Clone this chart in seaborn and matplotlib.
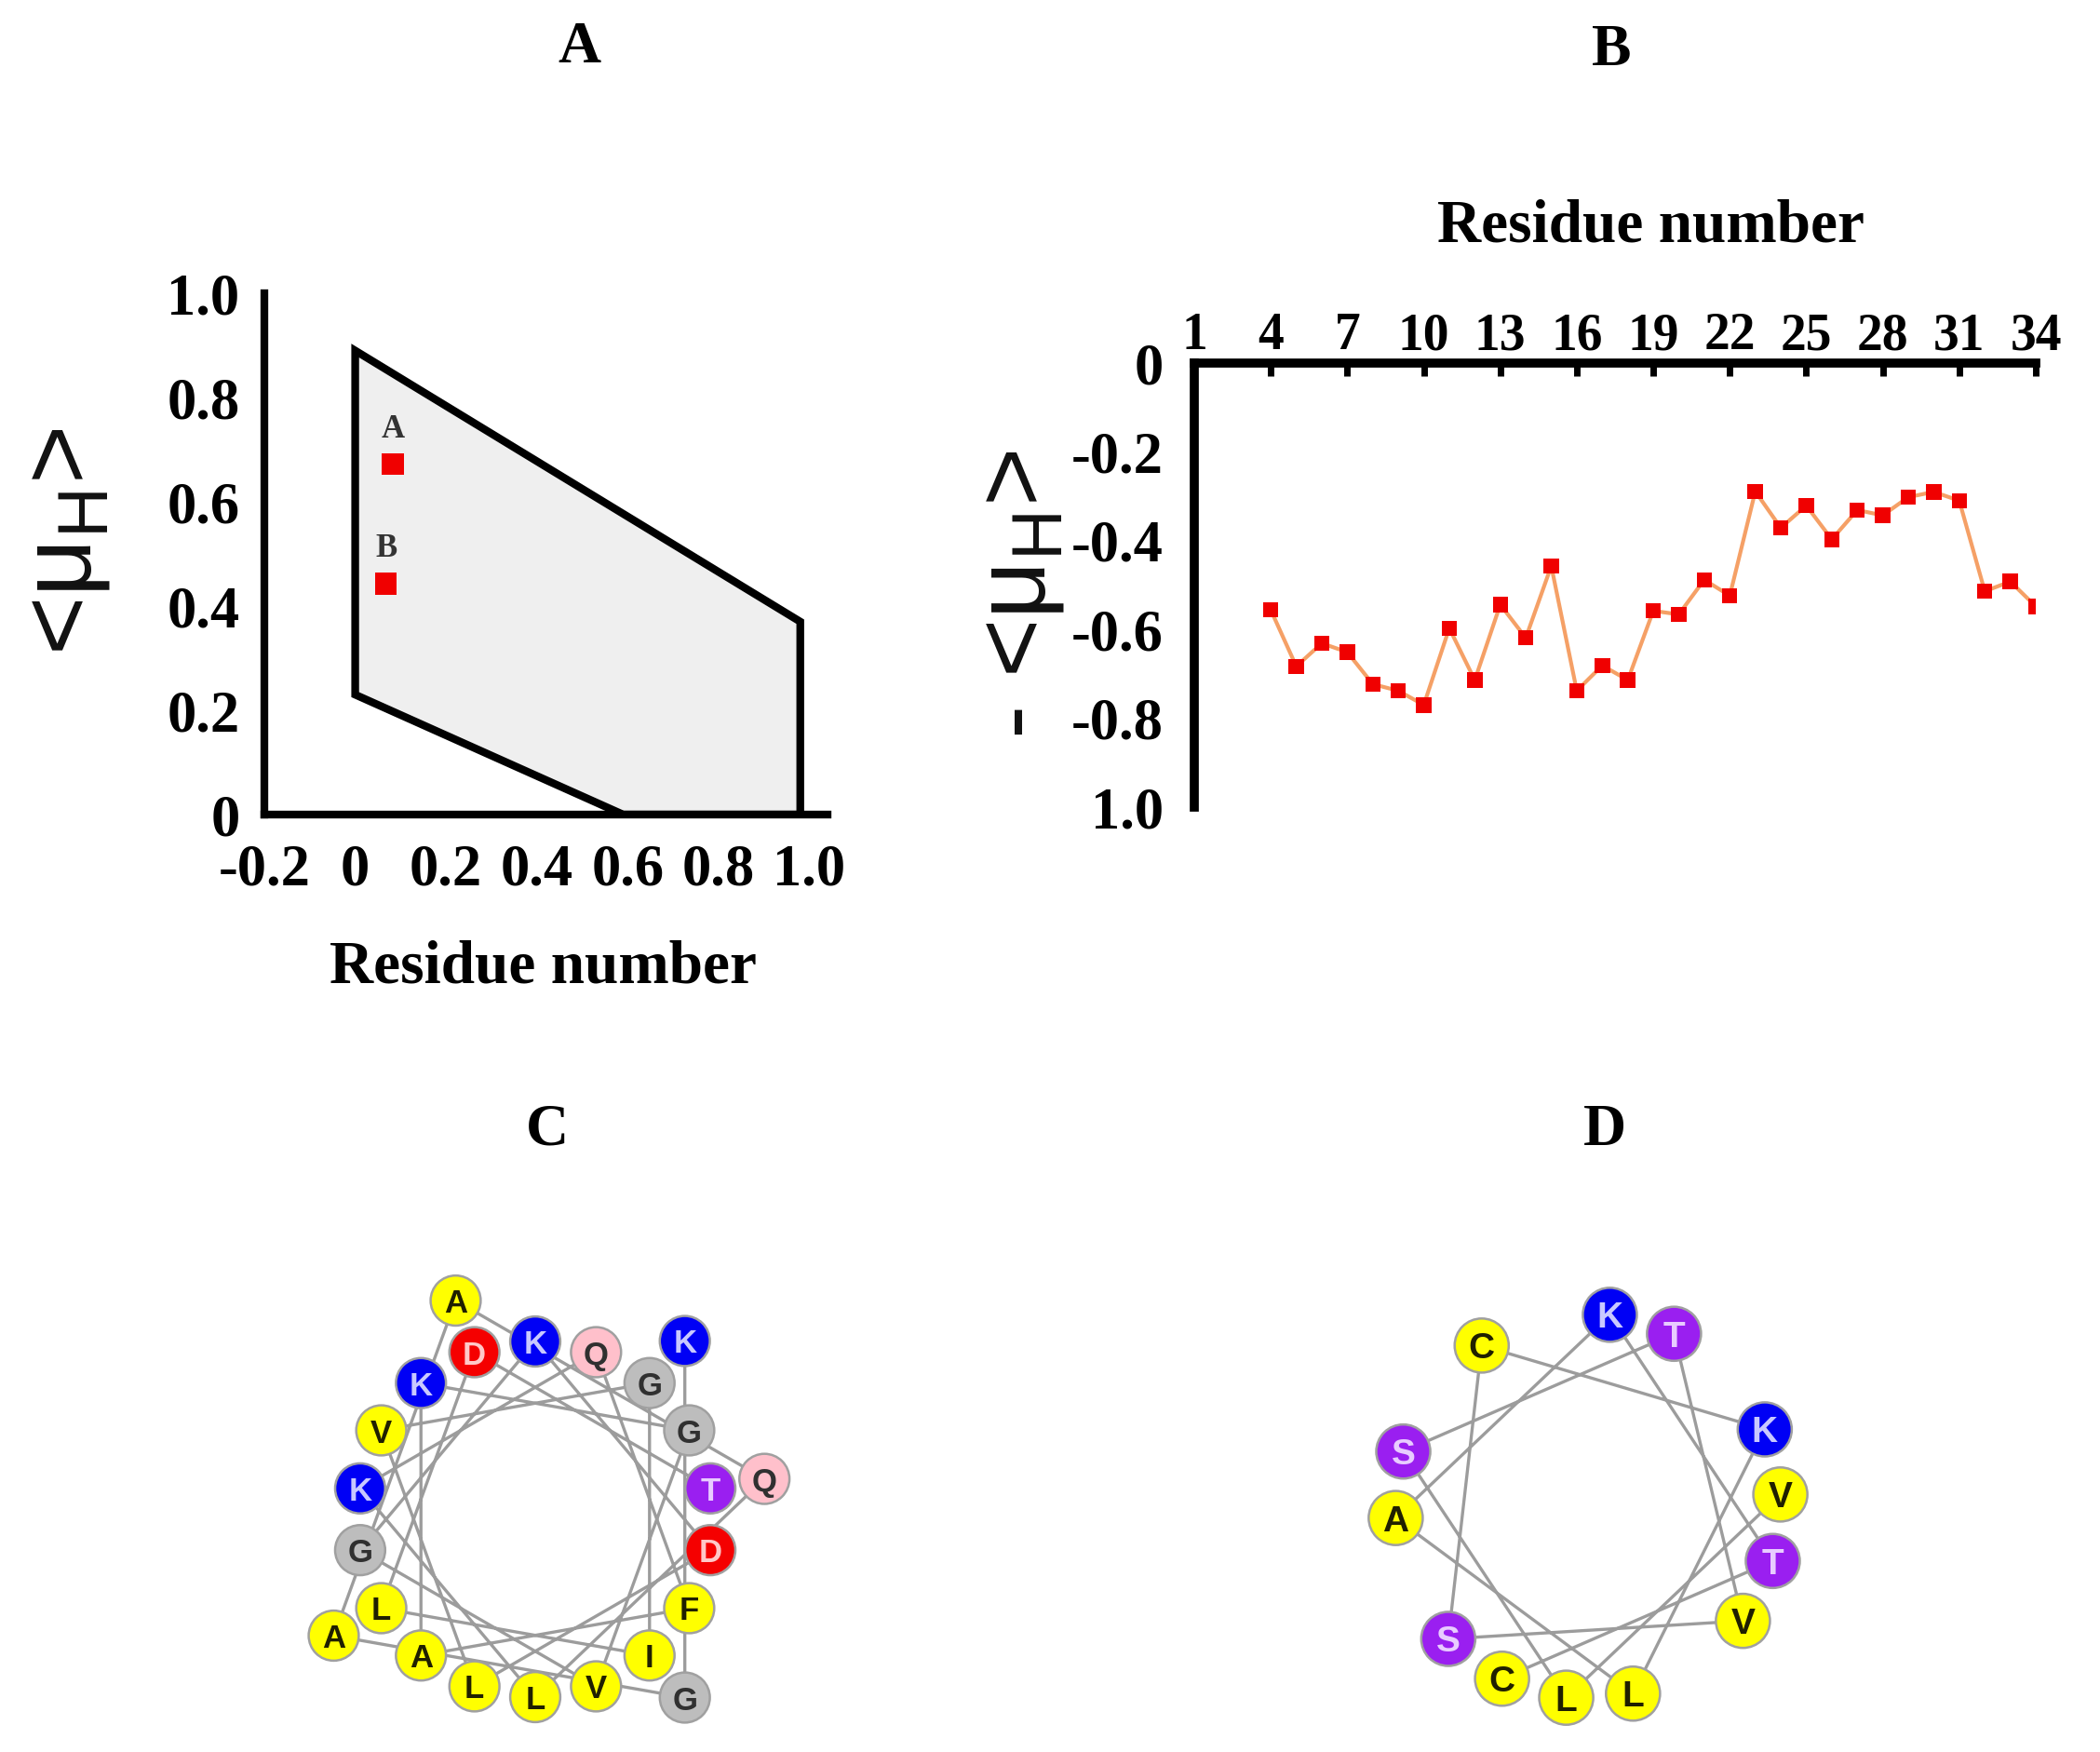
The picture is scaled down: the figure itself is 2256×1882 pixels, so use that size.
import numpy as np
import matplotlib
matplotlib.use('Agg')
import matplotlib.pyplot as plt
import seaborn as sns

# Panel A: region of the hydrophobic moment plot and the two peptides
region_h = [0.0, 0.98, 0.98, 0.59, 0.0]
region_muh = [0.89, 0.37, 0.0, 0.0, 0.23]
peptide_names = ['A', 'B']
peptide_h = [0.083, 0.068]
peptide_muh = [0.672, 0.443]
a_xticks = [-0.2, 0, 0.2, 0.4, 0.6, 0.8, 1.0]
a_xticklabels = ['-0.2', '0', '0.2', '0.4', '0.6', '0.8', '1.0']
a_yticks = [0, 0.2, 0.4, 0.6, 0.8, 1.0]
a_yticklabels = ['0', '0.2', '0.4', '0.6', '0.8', '1.0']

# Panel B: moment per residue window
residue = list(range(4, 35))
moment = [-0.556, -0.683, -0.631, -0.651, -0.723, -0.738, -0.770, -0.597,
          -0.714, -0.544, -0.619, -0.457, -0.738, -0.681, -0.714, -0.558,
          -0.566, -0.488, -0.524, -0.289, -0.371, -0.321, -0.397, -0.331,
          -0.343, -0.302, -0.290, -0.310, -0.514, -0.492, -0.548]
b_xticks = list(range(1, 35, 3))
b_yticks = [0, -0.2, -0.4, -0.6, -0.8, -1.0]
b_yticklabels = ['0', '-0.2', '-0.4', '-0.6', '-0.8', '1.0']

# Panels C and D: helical wheel sequences
seq_c = 'TDLIGVLDKGVGKAFQKLQAAGK'
seq_d = 'CTKALKCSVTSLV'

# residue colours (face, letter)
res_colors = {
    'A': ('#ffff00', '#202000'), 'L': ('#ffff00', '#202000'),
    'I': ('#ffff00', '#202000'), 'V': ('#ffff00', '#202000'),
    'F': ('#ffff00', '#202000'), 'C': ('#ffff00', '#202000'),
    'K': ('#0000f5', '#c8c8ff'), 'D': ('#f50000', '#ffc8c8'),
    'Q': ('#ffc0cb', '#303030'), 'G': ('#bdbdbd', '#303030'),
    'T': ('#9a1ff0', '#e8ccff'), 'S': ('#9a1ff0', '#e8ccff'),
}

sns.set_style('white')
plt.rcParams['font.family'] = ['Liberation Serif', 'DejaVu Serif']
plt.rcParams['font.weight'] = 'bold'
plt.rcParams['text.color'] = 'black'
plt.rcParams['axes.labelcolor'] = 'black'

W, H = 2256, 1882
fig = plt.figure(figsize=(W / 100, H / 100), dpi=100)


def add_px_axes(left, top, right, bottom):
    return fig.add_axes([left / W, 1 - bottom / H, (right - left) / W, (bottom - top) / H])


sans = ['Liberation Sans', 'DejaVu Sans']

# ---------------- Panel A ----------------
ax_a = add_px_axes(284, 315, 889, 875)
ax_a.fill(region_h, region_muh, facecolor='#efefef', edgecolor='black',
          linewidth=6, joinstyle='miter', zorder=2)
sns.scatterplot(x=peptide_h, y=peptide_muh, marker='s', s=280, color='#f00000',
                edgecolor='none', ax=ax_a, zorder=3)
for name, hx, hy in zip(peptide_names, peptide_h, peptide_muh):
    ax_a.text(hx, hy + 0.067, name, ha='center', va='center', fontsize=25,
              color='#333333', fontweight='bold')
ax_a.set_xlim(-0.2, 1.04)
ax_a.set_ylim(0, 1.0)
ax_a.set_xticks(a_xticks, a_xticklabels)
ax_a.set_yticks(a_yticks, a_yticklabels)
for s in ['top', 'right']:
    ax_a.spines[s].set_visible(False)
for s in ['left', 'bottom']:
    ax_a.spines[s].set_linewidth(6)
    ax_a.spines[s].set_color('black')
ax_a.tick_params(axis='both', direction='out', length=5, width=3, labelsize=45,
                 colors='black')
ax_a.tick_params(axis='y', pad=14)
ax_a.tick_params(axis='x', pad=18)
ax_a.set_xlabel('')
ax_a.set_ylabel('')
fig.text(583 / W, 1 - 1040 / H, 'Residue number', ha='center', va='center', fontsize=47)
fig.text(70 / W, 1 - 582 / H, r'<μ$_{\mathregular{H}}$>', ha='center', va='center',
         rotation=90, fontsize=78, family=sans, fontweight='normal', color='#111111')

# ---------------- Panel B ----------------
ax_b = add_px_axes(1283, 390, 2187, 867)
sns.lineplot(x=residue, y=moment, color='#f5a066', linewidth=3, ax=ax_b, zorder=2)
sns.scatterplot(x=residue, y=moment, marker='s', s=140, color='#f00000',
                edgecolor='none', ax=ax_b, zorder=3)
ax_b.set_xlim(1, 34)
ax_b.set_ylim(-1.0, 0)
ax_b.xaxis.tick_top()
ax_b.set_xticks(b_xticks, [str(t) for t in b_xticks])
ax_b.set_yticks(b_yticks, b_yticklabels)
for s in ['bottom', 'right']:
    ax_b.spines[s].set_visible(False)
for s in ['left', 'top']:
    ax_b.spines[s].set_linewidth(7)
    ax_b.spines[s].set_color('black')
ax_b.tick_params(axis='both', direction='in', length=10, width=5, colors='black')
ax_b.tick_params(axis='x', labelsize=40, pad=2)
ax_b.tick_params(axis='y', labelsize=45, pad=24)
ax_b.set_xlabel('')
ax_b.set_ylabel('')
fig.text(1774 / W, 1 - 243 / H, 'Residue number', ha='center', va='center', fontsize=47)
fig.text(1095 / W, 1 - 639 / H, r'- <μ$_{\mathregular{H}}$>', ha='center', va='center',
         rotation=90, fontsize=78, family=sans, fontweight='normal', color='#111111')


# ---------------- Panels C and D ----------------
def helical_wheel(ax, seq, start_deg, r_inner, r_outer, size, letter_size):
    n = np.arange(len(seq))
    ang = np.deg2rad(start_deg + 100 * n)
    r = np.where(n < 18, r_inner, r_outer)
    x = r * np.cos(ang)
    y = r * np.sin(ang)
    ax.plot(x, y, color='#9c9c9c', linewidth=2.4, zorder=1)
    faces = [res_colors[c][0] for c in seq]
    sns.scatterplot(x=x, y=y, s=size, c=faces, edgecolor='#a0a0a0', linewidth=1.8,
                    ax=ax, zorder=2, legend=False)
    for xi, yi, c in zip(x, y, seq):
        ax.text(xi, yi, c, ha='center', va='center_baseline', fontsize=letter_size,
                color=res_colors[c][1], family=sans, fontweight='bold', zorder=3)
    ax.set_xlim(-300, 300)
    ax.set_ylim(-300, 300)
    ax.set_aspect('equal')
    ax.axis('off')


ax_c = add_px_axes(275, 1332, 875, 1932)
helical_wheel(ax_c, seq_c, 10, 191, 250, 1500, 25)
ax_d = add_px_axes(1406, 1318, 2006, 1918)
helical_wheel(ax_d, seq_d, -116.5, 207, 207, 1750, 28)

# panel titles
for letter, tx, ty in [('A', 622, 52), ('B', 1731, 55), ('C', 588, 1215), ('D', 1724, 1215)]:
    fig.text(tx / W, 1 - ty / H, letter, ha='center', va='center', fontsize=46)

fig.savefig('out.png', dpi=100)
